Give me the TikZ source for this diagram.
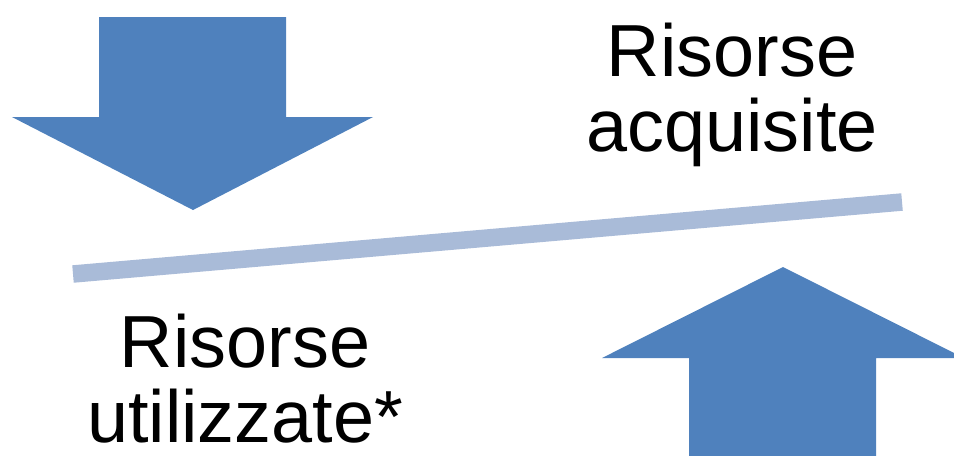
\documentclass[tikz,border=0pt]{standalone}
\usepackage{fontspec}
\setmainfont{Liberation Sans}
\usepackage{tikz}
\usetikzlibrary{calc}
\definecolor{frecciablu}{RGB}{79,129,189}
\definecolor{barraazzurra}{RGB}{169,187,216}
\tikzset{
	freccia/.style={fill=frecciablu, draw=none},
	risorsa/.style={align=center, inner sep=0pt, anchor=north, font=\fontsize{21}{21.3}\selectfont}
}

\begin{document}
\begin{tikzpicture}
	\clip (0, 0) rectangle (9.54, 4.55);

	\begin{scope}
		% freccia verso il basso
		\coordinate (D1) at (0.99, 4.38);
		\coordinate (D2) at (2.86, 4.38);
		\coordinate (D3) at (2.86, 3.38);
		\coordinate (D4) at (3.73, 3.38);
		\coordinate (D5) at (1.93, 2.45);
		\coordinate (D6) at (0.12, 3.38);
		\coordinate (D7) at (0.99, 3.38);
		\fill[freccia] (D1) -- (D2) -- (D3) -- (D4) -- (D5) -- (D6) -- (D7) -- cycle;
	\end{scope}

	\begin{scope}
		% freccia verso l'alto
		\coordinate (U1) at (6.89, -0.10);
		\coordinate (U2) at (8.76, -0.10);
		\coordinate (U3) at (8.76, 0.97);
		\coordinate (U4) at (9.64, 0.97);
		\coordinate (U5) at (7.83, 1.88);
		\coordinate (U6) at (6.02, 0.97);
		\coordinate (U7) at (6.89, 0.97);
		\fill[freccia] (U1) -- (U2) -- (U3) -- (U4) -- (U5) -- (U6) -- (U7) -- cycle;
	\end{scope}

	% barra
	\coordinate (B1) at (0.73, 1.81);
	\coordinate (B2) at (9.02, 2.53);
	\draw[barraazzurra, line width=0.175cm] (B1) -- (B2);

	\node[risorsa] (acquisite) at (7.32, 4.33) {Risorse\\acquisite};
	\node[risorsa] (utilizzate) at (2.45, 1.42) {Risorse\\utilizzate*};
\end{tikzpicture}
\end{document}
